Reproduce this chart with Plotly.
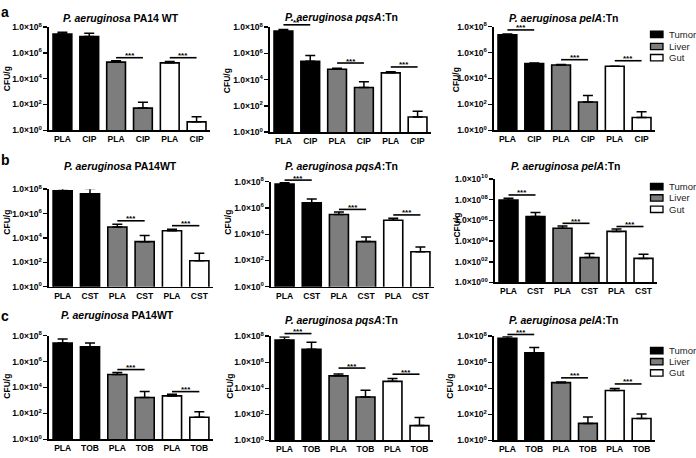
import plotly.graph_objects as go

W, H = 696, 458
FONT = "Liberation Sans, Arial, sans-serif"

# ---------------- data (log10 CFU/g) ----------------
organs = ["Tumor", "Liver", "Gut"]
organ_colors = ["#000000", "#7d7d7d", "#ffffff"]
row_drugs = ["CIP", "CST", "TOB"]
row_letters = ["a", "b", "c"]
strain_titles = [
    ["<i>P. aeruginosa</i> PA14 WT", "<i>P. aeruginosa pqsA</i>:Tn", "<i>P. aeruginosa pelA</i>:Tn"],
    ["<i>P. aeruginosa</i> PA14WT", "<i>P. aeruginosa pqsA</i>:Tn", "<i>P. aeruginosa pelA</i>:Tn"],
    ["<i>P. aeruginosa</i> PA14WT", "<i>P. aeruginosa pqsA</i>:Tn", "<i>P. aeruginosa pelA</i>:Tn"],
]
# order: Tumor PLA, Tumor drug, Liver PLA, Liver drug, Gut PLA, Gut drug
a_wt_mean = [7.47, 7.28, 5.29, 1.72, 5.23, 0.65]
a_wt_top = [7.60, 7.52, 5.40, 2.17, 5.33, 1.05]
a_pqs_mean = [7.70, 5.40, 4.80, 3.40, 4.52, 1.16]
a_pqs_top = [7.83, 5.85, 4.87, 3.85, 4.60, 1.60]
a_pel_mean = [7.37, 5.16, 5.04, 2.18, 4.94, 0.98]
a_pel_top = [7.43, 5.20, 5.08, 2.68, 4.94, 1.43]

b_wt_mean = [7.87, 7.63, 4.90, 3.70, 4.59, 2.13]
b_wt_top = [8.05, 8.05, 5.12, 4.20, 4.72, 2.75]
b_pqs_mean = [7.82, 6.39, 5.50, 3.44, 5.07, 2.67]
b_pqs_top = [7.92, 6.68, 5.69, 3.79, 5.22, 3.02]
b_pel_mean = [7.96, 6.38, 5.25, 2.42, 4.94, 2.33]
b_pel_top = [8.14, 6.76, 5.47, 2.80, 5.16, 2.74]

c_wt_mean = [7.43, 7.13, 5.00, 3.23, 3.35, 1.70]
c_wt_top = [7.73, 7.43, 5.15, 3.68, 3.48, 2.13]
c_pqs_mean = [7.70, 7.00, 4.95, 3.33, 4.53, 1.13]
c_pqs_top = [7.93, 7.53, 5.10, 3.85, 4.75, 1.75]
c_pel_mean = [7.83, 6.73, 4.43, 1.30, 3.83, 1.68]
c_pel_top = [7.98, 7.13, 4.48, 1.80, 3.98, 2.03]

# significance brackets: (left bar index, label, height in log10)
a_wt_sig = [(2, "***", 5.63), (4, "***", 5.63)]
a_pqs_sig = [(0, "**", 8.18), (2, "***", 5.27), (4, "***", 4.97)]
a_pel_sig = [(0, "***", 7.75), (2, "***", 5.45), (4, "***", 5.37)]
b_wt_sig = [(2, "***", 5.41), (4, "***", 5.01)]
b_pqs_sig = [(0, "***", 8.12), (2, "***", 5.89), (4, "***", 5.47)]
b_pel_sig = [(0, "***", 8.46), (2, "***", 5.72), (4, "***", 5.41)]
c_wt_sig = [(2, "***", 5.38), (4, "***", 3.68)]
c_pqs_sig = [(0, "***", 8.20), (2, "***", 5.55), (4, "***", 5.08)]
c_pel_sig = [(0, "***", 8.13), (2, "***", 4.80), (4, "***", 4.33)]

y_decades_std = [0, 2, 4, 6, 8]
y_labels_std = ["1.0×10<sup>0</sup>", "1.0×10<sup>2</sup>", "1.0×10<sup>4</sup>",
                "1.0×10<sup>6</sup>", "1.0×10<sup>8</sup>"]
y_decades_wide = [0, 2, 4, 6, 8, 10]
y_labels_wide = ["1.0×10<sup>00</sup>", "1.0×10<sup>02</sup>", "1.0×10<sup>04</sup>",
                 "1.0×10<sup>06</sup>", "1.0×10<sup>08</sup>", "1.0×10<sup>10</sup>"]

means = [a_wt_mean, a_pqs_mean, a_pel_mean, b_wt_mean, b_pqs_mean, b_pel_mean,
         c_wt_mean, c_pqs_mean, c_pel_mean]
tops = [a_wt_top, a_pqs_top, a_pel_top, b_wt_top, b_pqs_top, b_pel_top,
        c_wt_top, c_pqs_top, c_pel_top]
sigs = [a_wt_sig, a_pqs_sig, a_pel_sig, b_wt_sig, b_pqs_sig, b_pel_sig,
        c_wt_sig, c_pqs_sig, c_pel_sig]

# ---------------- layout geometry (pixels) ----------------
# (x_left, x_right, y_top, y_bottom)
boxes = [
    (49, 210, 21.7, 127.3), (270, 431, 21.7, 129.3), (494, 655, 21.2, 127.3),
    (49, 213, 187.7, 287.7), (271, 434, 180, 287.7), (495, 657, 177.3, 283.3),
    (49, 213, 337.7, 444), (271, 433, 338.3, 445), (494, 655, 338.3, 445),
]
title_pos = [(121, 12.5), (341, 11.3), (564, 12),
             (120, 164), (341, 164), (566, 164),
             (118, 316.5), (341, 322), (564, 321.5)]
ytitle_pos = [(7, 75), (227, 76), (456, 76),
              (7, 222), (228, 222), (457, 225),
              (7, 390), (230, 390), (450, 390)]
letter_pos = [(5, 6), (5, 158), (5, 318)]
legend_rows_y = [(29, 41.5, 53), (185, 196.7, 208.3), (353, 364.5, 376)]

fig = go.Figure()
shapes, annots = [], []

for k in range(9):
    r, c = divmod(k, 3)
    sfx = "" if k == 0 else str(k + 1)
    xa, ya = "x" + sfx, "y" + sfx
    wide = (r == 1 and c == 2)
    yr = [0, 10] if wide else [0, 8]
    x0, x1, yt, yb = boxes[k]
    ticklbl = []
    for o in organs:
        ticklbl += ["PLA", row_drugs[r]]
    for g, organ in enumerate(organs):
        idx = [2 * g, 2 * g + 1]
        m = [10 ** means[k][i] for i in idx]
        t = [10 ** tops[k][i] for i in idx]
        fig.add_trace(go.Bar(
            x=idx, y=m, width=0.7, xaxis=xa, yaxis=ya, name=organ,
            marker=dict(color=organ_colors[g], line=dict(color="black", width=1.6)),
            error_y=dict(type="data", symmetric=False,
                         array=[tt - mm for tt, mm in zip(t, m)],
                         arrayminus=[0, 0], color="black", thickness=1.5, width=5),
            cliponaxis=False, showlegend=False, hoverinfo="skip",
        ))
    fig.layout["xaxis" + sfx] = dict(
        domain=[x0 / W, x1 / W], anchor=ya, range=[-0.5, 5.5],
        tickmode="array", tickvals=list(range(6)), ticktext=ticklbl,
        showline=True, linecolor="black", linewidth=1.6, ticks="",
        showgrid=False, zeroline=False, fixedrange=True,
        tickfont=dict(family=FONT, size=8.5, color="black", weight="bold"),
    )
    fig.layout["yaxis" + sfx] = dict(
        domain=[1 - yb / H, 1 - yt / H], anchor=xa, type="log", range=yr,
        tickmode="array",
        tickvals=[10 ** d for d in (y_decades_wide if wide else y_decades_std)],
        ticktext=y_labels_wide if wide else y_labels_std,
        showline=True, linecolor="black", linewidth=1.6,
        ticks="outside", ticklen=4, tickwidth=1.4, tickcolor="black",
        showgrid=False, zeroline=False, fixedrange=True,
        tickfont=dict(family=FONT, size=8.5, color="black", weight="bold"),
    )
    # significance brackets
    for (i0, lab, h) in sigs[k]:
        fy = (h - yr[0]) / (yr[1] - yr[0])
        fx0 = (i0 + 0.5) / 6
        fx1 = (i0 + 1.5) / 6
        shapes.append(dict(type="line", xref=xa + " domain", yref=ya + " domain",
                           x0=fx0, x1=fx1, y0=fy, y1=fy,
                           line=dict(color="black", width=1.6)))
        annots.append(dict(xref=xa + " domain", yref=ya + " domain",
                           x=(fx0 + fx1) / 2, y=fy, text=lab, showarrow=False,
                           yanchor="bottom", xanchor="center", yshift=-4.5,
                           font=dict(family=FONT, size=8, color="black", weight="bold")))
    # titles
    tx, ty = title_pos[k]
    annots.append(dict(xref="paper", yref="paper", x=tx / W, y=1 - ty / H,
                       text=strain_titles[r][c], showarrow=False,
                       xanchor="center", yanchor="middle",
                       font=dict(family=FONT, size=10.5, color="black", weight="bold")))
    yx, yy = ytitle_pos[k]
    annots.append(dict(xref="paper", yref="paper", x=yx / W, y=1 - yy / H,
                       text="CFU/g", showarrow=False, textangle=-90,
                       xanchor="center", yanchor="middle",
                       font=dict(family=FONT, size=8.5, color="black", weight="bold")))

# panel letters
for r in range(3):
    lx, ly = letter_pos[r]
    annots.append(dict(xref="paper", yref="paper", x=lx / W, y=1 - ly / H,
                       text=row_letters[r], showarrow=False,
                       xanchor="center", yanchor="middle",
                       font=dict(family=FONT, size=14, color="black", weight="bold")))

# legends (one per row)
for r in range(3):
    for g, organ in enumerate(organs):
        cy = legend_rows_y[r][g]
        shapes.append(dict(type="rect", xref="paper", yref="paper",
                           x0=650.5 / W, x1=663 / W, y0=1 - (cy + 3.3) / H, y1=1 - (cy - 3.3) / H,
                           fillcolor=organ_colors[g], line=dict(color="black", width=1.3)))
        annots.append(dict(xref="paper", yref="paper", x=667 / W, y=1 - cy / H,
                           text=organ, showarrow=False, xanchor="left", yanchor="middle",
                           font=dict(family=FONT, size=9.5, color="#222222")))

fig.update_layout(
    width=W, height=H, margin=dict(l=0, r=0, t=0, b=0),
    paper_bgcolor="white", plot_bgcolor="white",
    barmode="overlay", showlegend=False, hovermode=False,
    shapes=shapes, annotations=annots,
)
fig.write_html("out.html", config={"displayModeBar": False, "staticPlot": True},
               post_script="document.body.style.margin='0px';document.body.style.overflow='hidden';")
